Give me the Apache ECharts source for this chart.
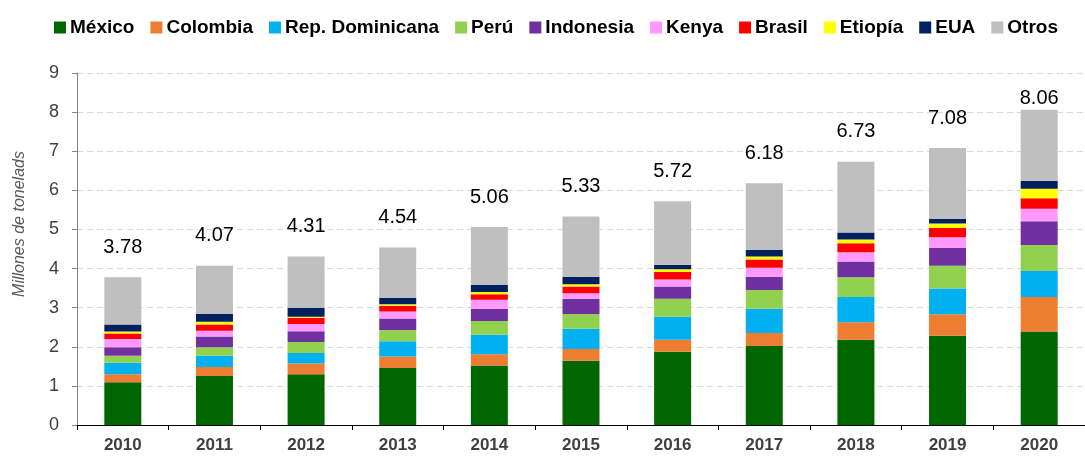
<!DOCTYPE html>
<html>
<head>
<meta charset="utf-8">
<script src="https://cdn.jsdelivr.net/npm/echarts@6/dist/echarts.min.js"></script>
<style>
  html, body { margin: 0; padding: 0; background: #fff; }
  #chart { width: 1085px; height: 459px; }
</style>
</head>
<body>
<div id="chart"></div>
<script>
const years = ['2010', '2011', '2012', '2013', '2014', '2015', '2016', '2017', '2018', '2019', '2020'];

// millones de toneladas
const mexico    = [1.09, 1.25, 1.30, 1.46, 1.52, 1.64, 1.87, 2.02, 2.18, 2.28, 2.39];
const colombia  = [0.21, 0.23, 0.27, 0.29, 0.29, 0.30, 0.31, 0.33, 0.45, 0.55, 0.88];
const repDom    = [0.29, 0.29, 0.27, 0.39, 0.50, 0.52, 0.59, 0.62, 0.64, 0.66, 0.67];
const peru      = [0.18, 0.22, 0.28, 0.29, 0.35, 0.38, 0.46, 0.48, 0.51, 0.58, 0.66];
const indonesia = [0.22, 0.27, 0.28, 0.29, 0.31, 0.39, 0.31, 0.34, 0.40, 0.46, 0.61];
const kenya     = [0.21, 0.15, 0.18, 0.18, 0.23, 0.14, 0.18, 0.23, 0.24, 0.27, 0.32];
const brasil    = [0.14, 0.16, 0.16, 0.15, 0.14, 0.17, 0.19, 0.21, 0.23, 0.24, 0.27];
const etiopia   = [0.05, 0.07, 0.03, 0.04, 0.06, 0.06, 0.07, 0.08, 0.09, 0.11, 0.24];
const eua       = [0.18, 0.20, 0.23, 0.16, 0.18, 0.19, 0.12, 0.17, 0.18, 0.12, 0.20];
const otros     = [1.21, 1.23, 1.31, 1.29, 1.48, 1.54, 1.62, 1.70, 1.81, 1.81, 1.82];
const totals    = [3.78, 4.07, 4.31, 4.54, 5.06, 5.33, 5.72, 6.18, 6.73, 7.08, 8.06];

var myChart = echarts.init(document.getElementById('chart'));

function bar(name, data, color) {
    return {
        name: name,
        type: 'bar',
        stack: 'total',
        barWidth: 37,
        data: data,
        itemStyle: { color: color }
    };
}

const series = [
    bar('México', mexico, '#006600'),
    bar('Colombia', colombia, '#ED7D31'),
    bar('Rep. Dominicana', repDom, '#00B0F0'),
    bar('Perú', peru, '#92D050'),
    bar('Indonesia', indonesia, '#7030A0'),
    bar('Kenya', kenya, '#FF99FF'),
    bar('Brasil', brasil, '#FF0000'),
    bar('Etiopía', etiopia, '#FFFF00'),
    bar('EUA', eua, '#002060'),
    bar('Otros', otros.map(function (v, i) {
        // la última etiqueta va pegada a la barra
        return i === otros.length - 1 ? { value: v, label: { distance: 1 } } : v;
    }), '#BFBFBF')
];
series[9].label = {
    show: true,
    position: 'top',
    distance: 20,
    color: '#000',
    fontSize: 20,
    fontFamily: 'Liberation Sans, Arial',
    formatter: function (p) { return totals[p.dataIndex].toFixed(2); }
};

const option = {
    animation: false,
    textStyle: { fontFamily: 'Liberation Sans, Arial' },
    legend: {
        top: 13,
        left: 49,
        itemWidth: 12,
        itemHeight: 12,
        itemGap: 16,
        icon: 'rect',
        textStyle: { fontSize: 19, fontWeight: 'bold', color: '#000', padding: [0, 0, 0, -1] },
        data: series.map(function (s) { return s.name; })
    },
    grid: { left: 77, right: -7, top: 73, bottom: 34 },
    xAxis: {
        type: 'category',
        data: years,
        axisLine: { lineStyle: { color: '#000', width: 1 } },
        axisTick: { show: true, length: 5, lineStyle: { color: '#000' } },
        axisLabel: { fontSize: 17, fontWeight: 'bold', color: '#404040', margin: 12 }
    },
    yAxis: {
        type: 'value',
        min: 0,
        max: 9,
        interval: 1,
        axisLine: { show: true, lineStyle: { color: '#868686' } },
        axisTick: { show: true, length: 5, lineStyle: { color: '#868686' } },
        axisLabel: { fontSize: 18, color: '#404040', margin: 18 },
        splitLine: { lineStyle: { color: '#d9d9d9', type: [6, 4] } }
    },
    graphic: [{
        type: 'text',
        x: 20,
        y: 224,
        rotation: Math.PI / 2,
        style: {
            text: 'Millones de tonelads',
            fill: '#595959',
            font: 'italic 16px Liberation Sans, Arial',
            textAlign: 'center',
            textVerticalAlign: 'middle'
        }
    }],
    series: series
};

myChart.setOption(option);
</script>
</body>
</html>
